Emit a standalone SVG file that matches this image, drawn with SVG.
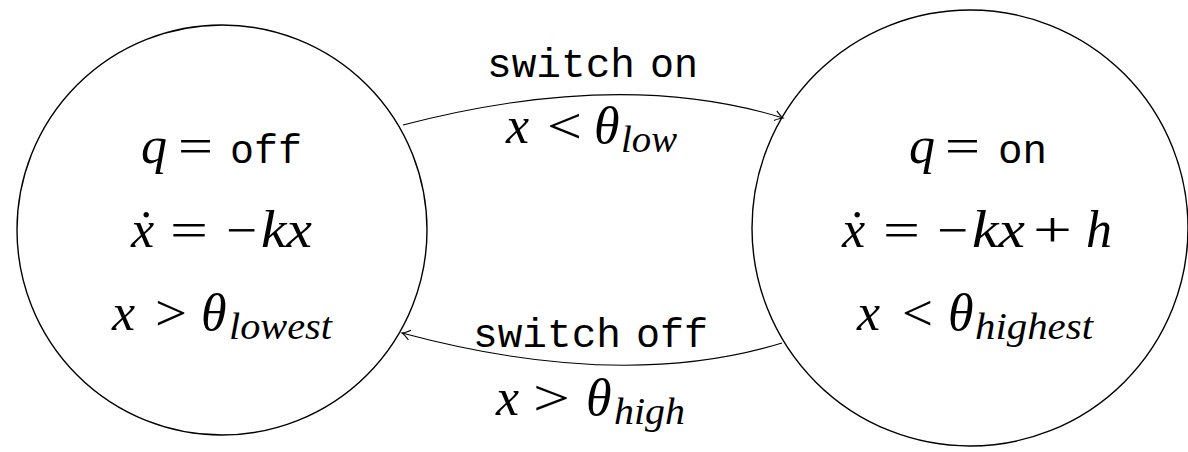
<svg xmlns="http://www.w3.org/2000/svg" width="1188" height="452" viewBox="0 0 1188 452">
<style>
.node{fill:none;stroke:#000;stroke-width:1.4}
.edge{fill:none;stroke:#000;stroke-width:1.1}
.mi{font-family:"Liberation Serif","DejaVu Serif",serif;font-style:italic;font-size:52px;fill:#000}
.rm{font-family:"Liberation Serif","DejaVu Serif",serif;font-size:50px;fill:#000}
.sub{font-family:"Liberation Serif",serif;font-style:italic;font-size:37px;fill:#000}
.tt{font-family:"Liberation Mono",monospace;font-size:40px;fill:#000}
</style>
<defs>
<marker id="arr" viewBox="-10 -6 12 12" refX="0" refY="0" markerWidth="12" markerHeight="12" markerUnits="userSpaceOnUse" orient="auto">
<path d="M-8,-5 Q-3,-1 0,0 Q-3,1 -8,5" fill="none" stroke="#000" stroke-width="1.1"/>
</marker>
</defs>
<g id="connectors">
<path class="edge" d="M403,125 Q621,68 783,118" marker-end="url(#arr)"/>
<path class="edge" d="M782,343 Q622,392 402,333" marker-end="url(#arr)"/>
<g id="label-on">
<text class="tt" x="487" y="77" textLength="148" lengthAdjust="spacingAndGlyphs">switch</text>
<text class="tt" x="650" y="77" textLength="48" lengthAdjust="spacingAndGlyphs">on</text>
<text class="mi" x="506" y="143">x</text>
<text class="rm" x="547" y="143" textLength="35" lengthAdjust="spacingAndGlyphs">&lt;</text>
<text class="mi" x="594" y="143">θ</text>
<text class="sub" x="621" y="152" textLength="56" lengthAdjust="spacingAndGlyphs">low</text>
</g>
<g id="label-off">
<text class="tt" x="473" y="347" textLength="148" lengthAdjust="spacingAndGlyphs">switch</text>
<text class="tt" x="636" y="347" textLength="72" lengthAdjust="spacingAndGlyphs">off</text>
<text class="mi" x="496" y="415">x</text>
<text class="rm" x="533" y="415" textLength="37" lengthAdjust="spacingAndGlyphs">&gt;</text>
<text class="mi" x="586" y="415">θ</text>
<text class="sub" x="614" y="424" textLength="71" lengthAdjust="spacingAndGlyphs">high</text>
</g>
</g>
<g id="node-off">
<circle class="node" cx="222" cy="230" r="205"/>
<text class="mi" x="141" y="163">q</text>
<text class="rm" x="178" y="163" textLength="35" lengthAdjust="spacingAndGlyphs">=</text>
<text class="tt" x="230" y="163" textLength="72" lengthAdjust="spacingAndGlyphs">off</text>
<text class="mi" x="131" y="247">ẋ</text>
<text class="rm" x="170" y="247" textLength="38" lengthAdjust="spacingAndGlyphs">=</text>
<text class="rm" x="226" y="247" textLength="31" lengthAdjust="spacingAndGlyphs">−</text>
<text class="mi" x="261" y="247" textLength="51" lengthAdjust="spacingAndGlyphs">kx</text>
<text class="mi" x="112" y="330">x</text>
<text class="rm" x="155" y="330" textLength="32" lengthAdjust="spacingAndGlyphs">&gt;</text>
<text class="mi" x="201" y="330">θ</text>
<text class="sub" x="229" y="339" textLength="103" lengthAdjust="spacingAndGlyphs">lowest</text>
</g>
<g id="node-on">
<circle class="node" cx="970" cy="228" r="218"/>
<text class="mi" x="909" y="163">q</text>
<text class="rm" x="945" y="163" textLength="35" lengthAdjust="spacingAndGlyphs">=</text>
<text class="tt" x="998" y="163" textLength="49" lengthAdjust="spacingAndGlyphs">on</text>
<text class="mi" x="842" y="247">ẋ</text>
<text class="rm" x="883" y="247" textLength="37" lengthAdjust="spacingAndGlyphs">=</text>
<text class="rm" x="937" y="247" textLength="31" lengthAdjust="spacingAndGlyphs">−</text>
<text class="mi" x="972" y="247" textLength="53" lengthAdjust="spacingAndGlyphs">kx</text>
<text class="rm" x="1033" y="247" textLength="39" lengthAdjust="spacingAndGlyphs">+</text>
<text class="mi" x="1086" y="247">h</text>
<text class="mi" x="857" y="330">x</text>
<text class="rm" x="902" y="330" textLength="31" lengthAdjust="spacingAndGlyphs">&lt;</text>
<text class="mi" x="948" y="330">θ</text>
<text class="sub" x="975" y="339" textLength="118" lengthAdjust="spacingAndGlyphs">highest</text>
</g>
</svg>
